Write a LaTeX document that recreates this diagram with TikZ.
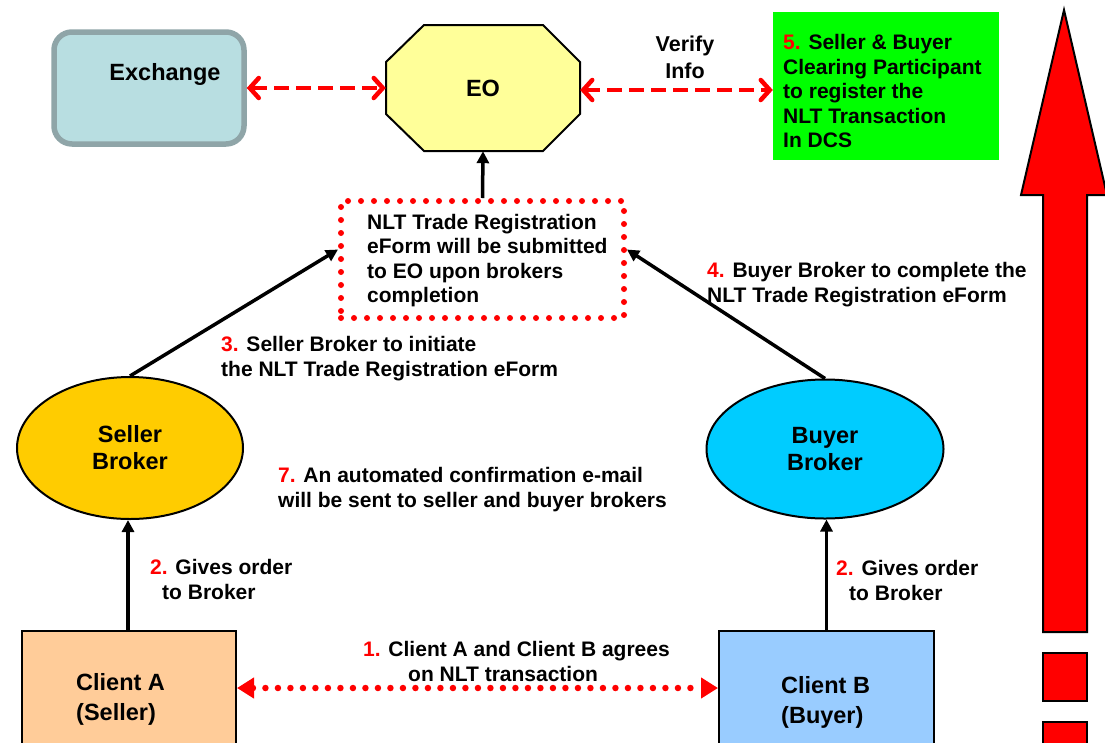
\documentclass[tikz,border=0pt]{standalone}
\usepackage{fontspec}
\setmainfont{Liberation Sans}
\usetikzlibrary{arrows.meta,shapes.geometric}
\definecolor{exfill}{HTML}{B8DEE1}
\definecolor{exline}{HTML}{8FA5A8}
\definecolor{eofill}{HTML}{FFFF99}
\definecolor{sellfill}{HTML}{FFCC00}
\definecolor{buyfill}{HTML}{00CCFF}
\definecolor{cafill}{HTML}{FFCC99}
\definecolor{cbfill}{HTML}{99CCFF}
\definecolor{grn}{HTML}{00FF00}
\definecolor{rd}{HTML}{FF0000}
\newcommand{\nm}[1]{\textcolor{rd}{#1}}
\tikzset{
  lbl/.style={font=\fontsize{21}{24.5}\selectfont\bfseries, align=left, inner sep=0pt, anchor=west},
  big/.style={font=\fontsize{23.5}{27}\selectfont\bfseries, align=center, inner sep=0pt},
  blackarrow/.style={line width=3.5pt, -{Triangle[length=12pt,width=12pt]}},
  dasharrow/.style={draw=rd, line width=4.5pt, dash pattern=on 15pt off 7pt,
    {Straight Barb[length=9pt,width=20pt,line cap=round]}-{Straight Barb[length=9pt,width=20pt,line cap=round]}},
  dotarrow/.style={draw=rd, line width=6.5pt, line cap=round, dash pattern=on 0pt off 12.5pt,
    {Triangle[length=17pt,width=20pt,line cap=butt]}-{Triangle[length=17pt,width=20pt,line cap=butt]}},
  plainbox/.style={draw=black, line width=2pt, inner sep=0pt}
}
\begin{document}
\begin{tikzpicture}[x=1pt,y=-1pt]
\clip (0,0) rectangle (1105,742);
\fill[white] (0,0) rectangle (1105,742);

% Exchange
\node[draw=exline, fill=exfill, line width=5.5pt, rounded corners=18pt,
      minimum width=190pt, minimum height=112pt, inner sep=0pt] (exch) at (149,88) {};
\node[big] (exchtxt) at (165,74) {Exchange};

% EO octagon
\filldraw[fill=eofill, draw=black, line width=2pt]
  (424,25) -- (543,25) -- (580,62) -- (580,114) -- (543,151) -- (424,151) -- (386,114) -- (386,62) -- cycle;
\node[big, minimum width=194pt, minimum height=126pt] (eo) at (483,88) {EO};

% Green box
\node[fill=grn, minimum width=226pt, minimum height=148pt, inner sep=0pt] (green) at (886,86) {};
\node[lbl] (greentxt) at (783,91) {\nm{5.} Seller \& Buyer\\Clearing Participant\\to register the\\NLT Transaction\\In DCS};

% Verify info
\node[big, font=\fontsize{21.5}{27}\selectfont\bfseries] (verify) at (685,57.5) {Verify\\Info};

% Form box
\node[draw=rd, line width=6pt, line cap=round, dash pattern=on 0pt off 13pt,
      minimum width=283pt, minimum height=117pt, inner sep=0pt] (form) at (482.5,259.5) {};
\node[lbl] (formtxt) at (367,260.5) {NLT Trade Registration\\eForm will be submitted\\to EO upon brokers\\completion};

% Brokers
\node[ellipse, plainbox, fill=sellfill, minimum width=226pt, minimum height=142pt,
      big] (seller) at (130,448) {Seller\\Broker};
\node[ellipse, plainbox, fill=buyfill, minimum width=237pt, minimum height=139pt,
      big] (buyer) at (825,449) {Buyer\\Broker};

% Clients
\node[plainbox, fill=cafill, minimum width=214pt, minimum height=169pt] (ca) at (129,715.5) {};
\node[big, align=left, anchor=west, font=\fontsize{23.5}{30}\selectfont\bfseries] (catxt) at (76,699) {Client A\\(Seller)};
\node[plainbox, fill=cbfill, minimum width=215pt, minimum height=169pt] (cb) at (826.5,715.5) {};
\node[big, align=left, anchor=west, font=\fontsize{23.5}{30}\selectfont\bfseries] (cbtxt) at (781,702) {Client B\\(Buyer)};

% Labels
\node[lbl] (l3) at (221,358.5) {\nm{3.} Seller Broker to initiate\\the NLT Trade Registration eForm};
\node[lbl] (l4) at (707,284.5) {\nm{4.} Buyer Broker to complete the\\NLT Trade Registration eForm};
\node[lbl] (l7) at (278,489.5) {\nm{7.} An automated confirmation e-mail\\will be sent to seller and buyer brokers};
\node[lbl] (l2a) at (150,579.5) {\nm{2.} Gives order\\\hspace*{12pt}to Broker};
\node[lbl] (l2b) at (836,580.5) {\nm{2.} Gives order\\\hspace*{13pt}to Broker};
\node[lbl] (l1) at (363,661.5) {\nm{1.} Client A and Client B agrees\\\hspace*{45pt}on NLT transaction};

% Connectors
\draw[dasharrow] (exch.east) -- (eo.west);
\draw[dasharrow] ([yshift=-2pt]eo.east) -- ([yshift=-2pt]eo.east -| green.west);
\draw[blackarrow] (form.north) -- (eo.south);
\draw[blackarrow] (seller.north) -- ([yshift=10pt]form.west);
\draw[blackarrow] (buyer.north) -- ([yshift=10pt]form.east);
\draw[blackarrow] (ca.north -| 128,0) -- (seller.south -| 128,0);
\draw[blackarrow] (cb.north) -- (buyer.south -| cb.north);
\draw[dotarrow] ([yshift=27.5pt]ca.east) -- ([yshift=27.5pt]cb.west);

% Big red arrow and squares
\filldraw[fill=rd, draw=black, line width=2pt, line join=miter]
  (1064,10) -- (1107,195) -- (1087,195) -- (1087,632) -- (1043,632) -- (1043,195) -- (1021,195) -- cycle;
\filldraw[fill=rd, draw=black, line width=2.5pt] (1043,653) rectangle (1087,701);
\filldraw[fill=rd, draw=black, line width=2.5pt] (1043,722) rectangle (1087,770);
\end{tikzpicture}
\end{document}
